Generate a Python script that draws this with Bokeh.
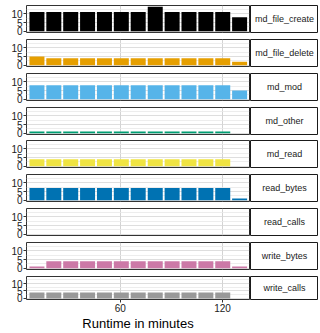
from bokeh.plotting import figure
from bokeh.layouts import gridplot
from bokeh.models import Range1d, FixedTicker, Span
from bokeh.core.properties import value
from bokeh.embed import file_html
from bokeh.resources import INLINE

# ---- data ----
minutes = [11.1, 21.0, 30.9, 40.8, 50.7, 60.6, 70.5, 80.5, 90.4, 100.3, 110.2, 120.1, 130.0]
series_names = ["md_file_create", "md_file_delete", "md_mod", "md_other", "md_read",
                "read_bytes", "read_calls", "write_bytes", "write_calls"]
md_file_create = [11, 11, 11, 11, 11, 11, 11, 14, 11, 11, 11, 11, 8]
md_file_delete = [5, 4, 4, 4, 4, 4, 4, 4, 4, 4, 4, 4, 2]
md_mod = [8, 8, 8, 8, 8, 8, 8, 8, 8, 8, 8, 8, 5]
md_other = [1, 1, 1, 1, 1, 1, 1, 1, 1, 1, 1, 1, 0]
md_read = [4, 4, 4, 4, 4, 4, 4, 4, 4, 4, 4, 4, 0]
read_bytes = [7, 7, 7, 7, 7, 7, 7, 7, 7, 7, 7, 7, 1]
read_calls = [0, 0, 0, 0, 0, 0, 0, 0, 0, 0, 0, 0, 0]
write_bytes = [1, 4, 4, 4, 4, 4, 4, 4, 4, 4, 4, 4, 1]
write_calls = [4, 4, 4, 4, 4, 4, 4, 4, 4, 4, 4, 4, 0]
series_values = [md_file_create, md_file_delete, md_mod, md_other, md_read,
                 read_bytes, read_calls, write_bytes, write_calls]
colors = ["#000000", "#E69F00", "#56B4E9", "#009E73", "#F0E442",
          "#0072B2", "#D55E00", "#CC79A7", "#999999"]
y_ticks = [0, 5, 10]
y_minor = [2.5, 7.5, 12.5]
x_ticks = [60, 120]
x_title = "Runtime in minutes"
bar_width = 8.8

X_START, X_END = 4.97, 135.8
FONT = "Liberation Sans"
FRAME_H = 27
# figure heights of rows 1..8 (row 1 includes a 5px top border)
row_heights = [39, 34, 34, 33, 34, 34, 34, 34]
LAST_H = 57
LAST_BB = 30

rows = []
n = len(series_names)
for i, (name, vals, col) in enumerate(zip(series_names, series_values, colors)):
    last = (i == n - 1)
    bt = 5 if i == 0 else 0
    h = LAST_H if last else row_heights[i]
    bb = LAST_BB if last else h - FRAME_H - bt
    p = figure(width=250, height=h, x_range=Range1d(X_START, X_END), y_range=Range1d(-0.7, 14.7),
               output_backend="svg", toolbar_location=None,
               min_border_left=26, min_border_right=1, min_border_top=bt, min_border_bottom=bb,
               x_axis_location=("below" if last else None))
    p.outline_line_color = "#333333"
    p.outline_line_width = 1
    p.background_fill_color = "white"
    p.border_fill_color = "white"
    # grids
    p.xgrid.ticker = FixedTicker(ticks=x_ticks)
    p.xgrid.grid_line_color = "#c8c8c8"
    p.xgrid.grid_line_width = 0.8
    p.ygrid.ticker = FixedTicker(ticks=y_ticks, minor_ticks=y_minor)
    p.ygrid.grid_line_color = "#d6d6d6"
    p.ygrid.grid_line_width = 0.8
    p.ygrid.minor_grid_line_color = "#e8e8e8"
    p.ygrid.minor_grid_line_width = 0.8
    # y axis
    p.yaxis.ticker = FixedTicker(ticks=y_ticks)
    p.yaxis.axis_line_color = None
    p.yaxis.minor_tick_line_color = None
    p.yaxis.major_tick_out = 3
    p.yaxis.major_tick_in = 0
    p.yaxis.major_tick_line_color = "#333333"
    p.yaxis.major_label_text_font = FONT
    p.yaxis.major_label_text_font_size = "10px"
    p.yaxis.major_label_text_color = "#222222"
    p.yaxis.major_label_standoff = 1
    if last:
        p.xaxis.ticker = FixedTicker(ticks=x_ticks)
        p.xaxis.axis_line_color = None
        p.xaxis.minor_tick_line_color = None
        p.xaxis.major_tick_out = 3
        p.xaxis.major_tick_in = 0
        p.xaxis.major_tick_line_color = "#333333"
        p.xaxis.major_label_text_font = FONT
        p.xaxis.major_label_text_font_size = "10px"
        p.xaxis.major_label_text_color = "#222222"
        p.xaxis.major_label_standoff = 1
        p.xaxis.axis_label = x_title
        p.xaxis.axis_label_text_font = FONT
        p.xaxis.axis_label_text_font_size = "13px"
        p.xaxis.axis_label_text_font_style = "normal"
        p.xaxis.axis_label_text_color = "black"
        p.xaxis.axis_label_standoff = 1
    xs = [m for m, v in zip(minutes, vals) if v > 0]
    tops = [v for v in vals if v > 0]
    if xs:
        p.vbar(x=xs, top=tops, bottom=0, width=bar_width,
               fill_color=col, line_color=None)
    # solid right border over the grid lines
    p.add_layout(Span(location=X_END, dimension="height", line_color="#1a1a1a", line_width=1))

    s = figure(width=68, height=h, x_range=Range1d(0, 1), y_range=Range1d(0, 1),
               output_backend="svg", toolbar_location=None,
               min_border_left=0, min_border_right=0, min_border_top=bt, min_border_bottom=bb,
               x_axis_location=None, y_axis_location=None)
    s.grid.visible = False
    s.outline_line_color = "#1a1a1a"
    s.outline_line_width = 1
    s.text(x=[0.5], y=[0.5], text=[name], text_align="center", text_baseline="middle",
           text_font=value(FONT), text_font_size="9px", text_color="#1a1a1a")
    rows.append([p, s])

grid = gridplot(rows, toolbar_location=None)

open("out.html", "w").write(file_html(grid, INLINE))
